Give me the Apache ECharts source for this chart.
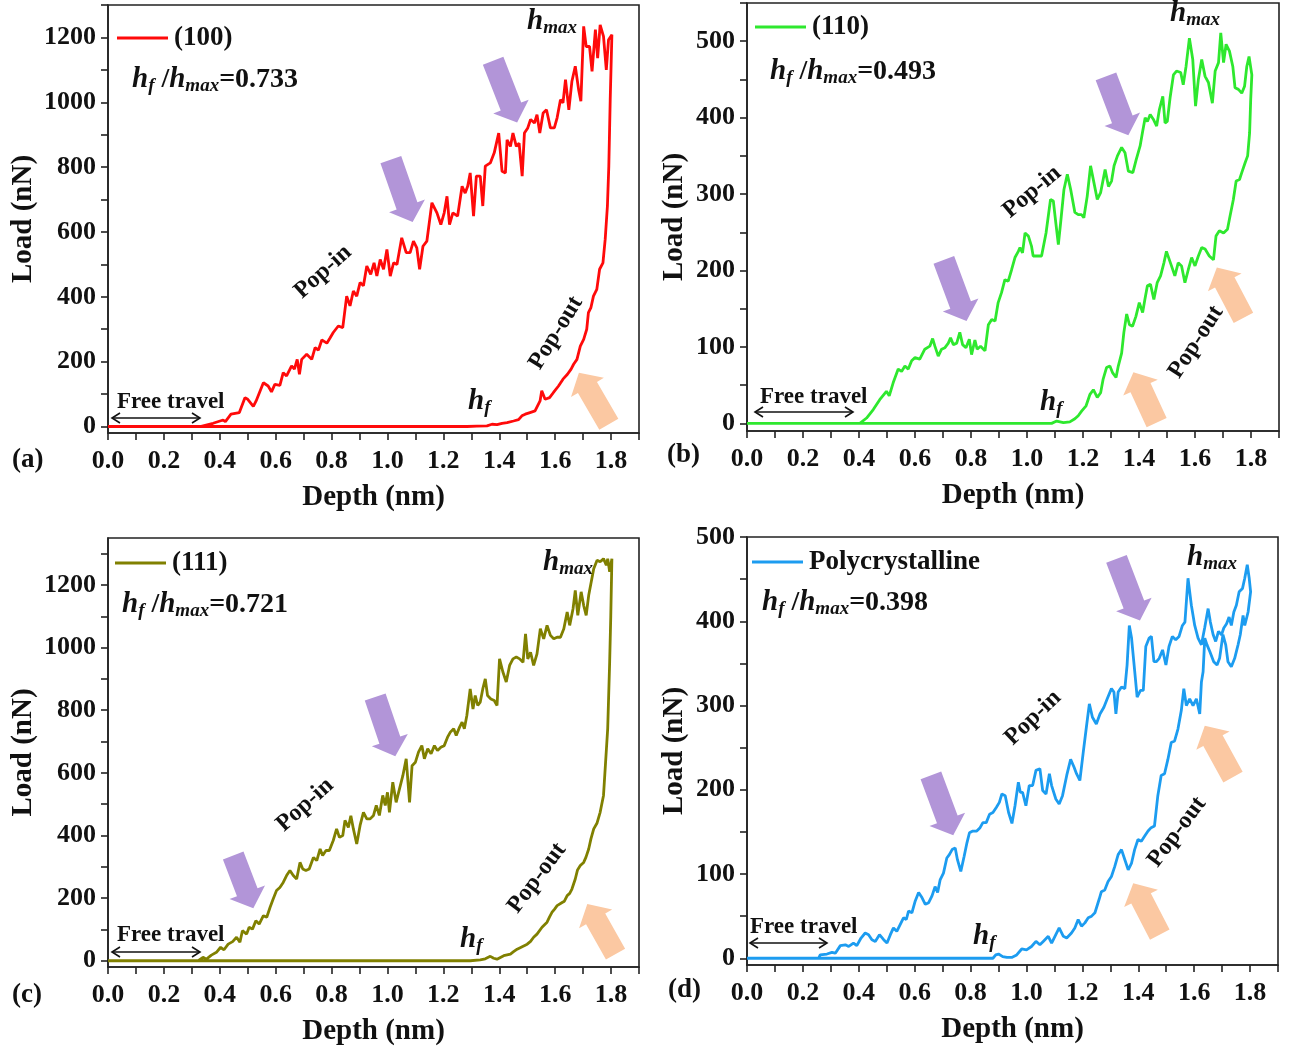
<!DOCTYPE html>
<html>
<head>
<meta charset="utf-8">
<script src="https://cdn.jsdelivr.net/npm/echarts@6/dist/echarts.min.js"></script>
<style>
html, body { margin: 0; padding: 0; background: #fff; }
#chart { width: 1295px; height: 1047px; }
</style>
</head>
<body>
<div id="chart"></div>
<script>
// ---- data: depth (nm), load (nN) ----
const load100 = [[0,0],[0.33,0],[0.376,10],[0.412,20],[0.42,15],[0.44,38],[0.47,43],[0.49,89],[0.50,84],[0.52,62],[0.53,79],[0.556,135],[0.573,125],[0.585,107],[0.597,130],[0.615,127],[0.627,166],[0.639,156],[0.657,187],[0.667,177],[0.677,207],[0.685,161],[0.693,207],[0.711,223],[0.729,207],[0.741,243],[0.753,236],[0.765,267],[0.783,257],[0.795,274],[0.806,290],[0.824,310],[0.840,305],[0.854,402],[0.866,372],[0.878,418],[0.890,402],[0.902,444],[0.914,434],[0.926,495],[0.94,469],[0.952,505],[0.962,464],[0.974,515],[0.986,485],[0.998,546],[1.01,464],[1.022,505],[1.034,500],[1.051,582],[1.067,536],[1.081,536],[1.093,572],[1.105,551],[1.115,485],[1.127,556],[1.141,572],[1.159,690],[1.177,659],[1.191,623],[1.203,659],[1.213,710],[1.222,623],[1.234,659],[1.251,649],[1.267,741],[1.278,720],[1.287,741],[1.296,782],[1.308,649],[1.318,772],[1.332,772],[1.341,680],[1.35,803],[1.368,813],[1.382,844],[1.398,905],[1.41,787],[1.422,782],[1.428,884],[1.44,864],[1.449,905],[1.461,864],[1.471,874],[1.482,772],[1.49,905],[1.502,921],[1.512,947],[1.526,936],[1.535,962],[1.545,905],[1.557,967],[1.569,977],[1.583,921],[1.597,921],[1.607,952],[1.619,1008],[1.628,998],[1.637,1070],[1.649,977],[1.66,1065],[1.672,1111],[1.684,1039],[1.692,1003],[1.702,1234],[1.711,1172],[1.723,1172],[1.732,1095],[1.744,1224],[1.752,1136],[1.761,1239],[1.773,1203],[1.783,1100],[1.791,1193],[1.803,1208]];
const unload100 = [[1.797,1008],[1.792,803],[1.787,680],[1.779,577],[1.771,505],[1.759,485],[1.749,423],[1.737,402],[1.728,367],[1.719,351],[1.713,300],[1.702,269],[1.690,248],[1.678,207],[1.666,192],[1.657,177],[1.644,161],[1.628,146],[1.612,125],[1.594,105],[1.580,89],[1.564,84],[1.552,110],[1.546,79],[1.528,48],[1.510,43],[1.493,38],[1.481,33],[1.469,21],[1.451,17],[1.428,12],[1.410,10],[1.392,6],[1.374,7],[1.356,2],[1.320,1],[1.285,0],[0,0]];

const load110 = [[0,0],[0.403,0],[0.427,7],[0.451,18],[0.474,31],[0.498,42],[0.508,36],[0.522,53],[0.54,71],[0.552,68],[0.564,75],[0.576,71],[0.588,82],[0.6,86],[0.617,84],[0.635,97],[0.653,101],[0.663,111],[0.671,101],[0.683,88],[0.695,97],[0.707,99],[0.719,105],[0.727,112],[0.737,103],[0.749,105],[0.76,119],[0.77,103],[0.782,99],[0.794,110],[0.802,90],[0.814,109],[0.822,97],[0.834,101],[0.85,95],[0.862,129],[0.874,136],[0.886,134],[0.897,158],[0.909,171],[0.921,188],[0.933,186],[0.945,201],[0.957,217],[0.969,225],[0.975,230],[0.984,223],[0.993,249],[1.005,245],[1.016,232],[1.022,219],[1.04,219],[1.052,219],[1.068,249],[1.084,293],[1.094,291],[1.103,262],[1.112,234],[1.12,262],[1.132,306],[1.144,326],[1.156,306],[1.171,276],[1.183,273],[1.195,273],[1.203,269],[1.215,297],[1.227,337],[1.239,315],[1.251,293],[1.263,302],[1.279,332],[1.291,310],[1.302,317],[1.311,337],[1.323,350],[1.338,361],[1.35,354],[1.362,330],[1.378,328],[1.39,345],[1.404,363],[1.413,382],[1.422,400],[1.43,395],[1.44,404],[1.451,398],[1.463,389],[1.473,411],[1.485,428],[1.493,393],[1.501,395],[1.511,426],[1.523,456],[1.534,461],[1.549,459],[1.558,443],[1.568,467],[1.58,504],[1.592,476],[1.602,415],[1.612,450],[1.624,476],[1.636,454],[1.648,446],[1.662,419],[1.672,461],[1.684,472],[1.692,511],[1.702,472],[1.711,496],[1.723,487],[1.735,467],[1.743,439],[1.755,437],[1.767,432],[1.777,441],[1.785,467],[1.793,480],[1.803,456]];
const unload110 = [[1.799,424],[1.795,380],[1.788,350],[1.779,341],[1.767,328],[1.759,319],[1.747,317],[1.737,293],[1.725,271],[1.716,254],[1.702,249],[1.687,252],[1.675,245],[1.666,214],[1.651,219],[1.636,228],[1.624,230],[1.612,219],[1.6,206],[1.588,217],[1.576,201],[1.564,184],[1.552,206],[1.54,210],[1.528,193],[1.516,206],[1.498,225],[1.489,210],[1.477,193],[1.465,184],[1.453,162],[1.441,182],[1.43,180],[1.421,162],[1.413,145],[1.401,158],[1.389,140],[1.377,127],[1.366,129],[1.356,143],[1.346,119],[1.338,92],[1.326,75],[1.318,60],[1.306,66],[1.296,75],[1.284,73],[1.272,58],[1.263,40],[1.251,34],[1.237,44],[1.225,38],[1.211,23],[1.195,16],[1.183,10],[1.171,6],[1.153,2],[1.13,1],[1.106,3],[1.088,0],[0,0]];

const load111 = [[0,0],[0.323,0],[0.34,11],[0.352,5],[0.37,18],[0.388,27],[0.403,43],[0.415,35],[0.43,53],[0.446,61],[0.46,75],[0.472,59],[0.481,96],[0.496,85],[0.505,107],[0.517,101],[0.529,128],[0.541,117],[0.556,144],[0.568,139],[0.58,171],[0.591,197],[0.603,224],[0.615,234],[0.627,250],[0.639,272],[0.651,288],[0.663,272],[0.675,261],[0.687,314],[0.697,293],[0.708,288],[0.72,293],[0.735,330],[0.747,320],[0.759,357],[0.768,336],[0.78,352],[0.792,352],[0.806,384],[0.818,421],[0.828,394],[0.84,400],[0.848,448],[0.86,426],[0.869,463],[0.878,421],[0.89,373],[0.902,432],[0.914,474],[0.926,453],[0.938,453],[0.95,464],[0.96,496],[0.971,464],[0.983,528],[0.992,496],[1.0,538],[1.007,474],[1.019,570],[1.031,506],[1.043,549],[1.055,591],[1.067,645],[1.079,506],[1.088,623],[1.1,634],[1.111,666],[1.123,687],[1.132,645],[1.144,677],[1.156,661],[1.168,687],[1.179,671],[1.191,682],[1.203,687],[1.215,714],[1.225,730],[1.237,741],[1.246,719],[1.258,746],[1.267,762],[1.275,741],[1.284,783],[1.296,868],[1.306,804],[1.314,847],[1.323,815],[1.332,826],[1.341,868],[1.35,900],[1.358,847],[1.37,836],[1.382,831],[1.392,815],[1.401,964],[1.413,922],[1.425,890],[1.437,943],[1.449,964],[1.461,970],[1.473,964],[1.485,953],[1.494,1044],[1.502,964],[1.512,985],[1.523,943],[1.535,980],[1.547,1060],[1.559,1028],[1.571,1071],[1.583,1039],[1.595,1028],[1.607,1033],[1.619,1033],[1.631,1060],[1.643,1114],[1.652,1071],[1.664,1124],[1.672,1183],[1.681,1103],[1.693,1178],[1.702,1135],[1.711,1103],[1.72,1167],[1.728,1205],[1.738,1252],[1.75,1279],[1.761,1274],[1.773,1284],[1.783,1263],[1.788,1284],[1.795,1242],[1.803,1284]];
const unload111 = [[1.799,1100],[1.795,953],[1.788,741],[1.773,528],[1.761,474],[1.75,440],[1.738,421],[1.728,389],[1.72,357],[1.71,330],[1.702,314],[1.69,304],[1.68,290],[1.672,261],[1.66,229],[1.652,215],[1.643,208],[1.633,190],[1.625,186],[1.607,176],[1.598,165],[1.589,155],[1.58,140],[1.571,123],[1.562,115],[1.553,107],[1.535,85],[1.523,75],[1.512,62],[1.5,53],[1.482,45],[1.464,37],[1.45,28],[1.44,21],[1.416,16],[1.392,5],[1.38,8],[1.368,14],[1.35,6],[1.332,3],[1.296,0],[0,0]];

const loadPoly = [[0,0],[0.256,0],[0.262,4],[0.286,5],[0.304,7],[0.316,6],[0.334,15],[0.352,16],[0.364,14],[0.381,18],[0.393,15],[0.408,24],[0.423,30],[0.435,28],[0.447,22],[0.459,20],[0.474,28],[0.489,22],[0.501,18],[0.513,28],[0.524,36],[0.536,32],[0.548,40],[0.56,48],[0.57,46],[0.578,56],[0.59,54],[0.602,68],[0.614,78],[0.626,72],[0.638,64],[0.65,66],[0.662,74],[0.673,85],[0.682,78],[0.691,93],[0.703,101],[0.715,119],[0.724,123],[0.734,129],[0.745,131],[0.753,117],[0.765,103],[0.777,121],[0.787,137],[0.796,149],[0.808,151],[0.822,151],[0.834,155],[0.844,161],[0.856,161],[0.868,171],[0.88,173],[0.892,179],[0.903,185],[0.912,195],[0.924,193],[0.936,173],[0.948,160],[0.959,181],[0.971,209],[0.978,197],[0.986,197],[0.998,181],[1.01,205],[1.022,205],[1.034,223],[1.048,225],[1.058,199],[1.07,195],[1.082,219],[1.09,205],[1.105,189],[1.117,183],[1.129,193],[1.144,217],[1.158,236],[1.17,227],[1.179,219],[1.191,211],[1.203,244],[1.215,276],[1.225,302],[1.236,286],[1.25,278],[1.263,290],[1.277,298],[1.289,308],[1.304,320],[1.313,316],[1.32,290],[1.328,316],[1.34,322],[1.352,320],[1.36,348],[1.368,395],[1.376,380],[1.384,352],[1.396,310],[1.408,318],[1.418,318],[1.427,370],[1.439,380],[1.447,382],[1.456,352],[1.465,352],[1.475,356],[1.487,366],[1.499,348],[1.51,370],[1.522,382],[1.534,378],[1.546,382],[1.558,395],[1.567,399],[1.578,451],[1.59,419],[1.602,395],[1.614,380],[1.626,372],[1.638,393],[1.65,415],[1.658,399],[1.668,384],[1.677,376],[1.687,388],[1.698,384],[1.706,392],[1.716,397],[1.725,405],[1.733,395],[1.742,411],[1.751,419],[1.761,435],[1.773,439],[1.781,451],[1.79,467],[1.797,451],[1.802,435]];
const unloadPoly = [[1.793,411],[1.781,395],[1.775,407],[1.765,384],[1.757,372],[1.745,356],[1.733,346],[1.721,352],[1.713,372],[1.703,384],[1.691,356],[1.682,348],[1.67,352],[1.656,364],[1.646,372],[1.638,380],[1.632,340],[1.626,328],[1.62,290],[1.608,308],[1.596,300],[1.584,308],[1.572,300],[1.563,320],[1.554,294],[1.542,272],[1.53,258],[1.518,256],[1.506,236],[1.494,219],[1.482,217],[1.47,193],[1.458,157],[1.446,155],[1.435,151],[1.423,145],[1.411,139],[1.399,141],[1.387,129],[1.376,113],[1.364,105],[1.352,117],[1.34,129],[1.328,123],[1.316,109],[1.304,97],[1.292,91],[1.28,81],[1.268,79],[1.26,70],[1.245,54],[1.233,50],[1.221,48],[1.209,42],[1.197,38],[1.185,46],[1.173,36],[1.161,30],[1.144,24],[1.132,26],[1.117,36],[1.105,28],[1.09,18],[1.078,26],[1.06,20],[1.048,16],[1.034,20],[1.018,14],[1.0,10],[0.983,11],[0.965,4],[0.947,1],[0.93,1],[0.915,2],[0.90,5],[0.89,4],[0.88,0],[0,0]];

// ---- tick labels ----
const xLabels = [0, 0.2, 0.4, 0.6, 0.8, 1.0, 1.2, 1.4, 1.6, 1.8];
const xTicks = [0, 0.1, 0.2, 0.3, 0.4, 0.5, 0.6, 0.7, 0.8, 0.9, 1.0, 1.1, 1.2, 1.3, 1.4, 1.5, 1.6, 1.7, 1.8, 1.9];
const yLabelsBig = [0, 200, 400, 600, 800, 1000, 1200];
const yTicksBig = [0, 100, 200, 300, 400, 500, 600, 700, 800, 900, 1000, 1100, 1200, 1300];
const yLabelsSmall = [0, 100, 200, 300, 400, 500];
const yTicksSmall = [0, 50, 100, 150, 200, 250, 300, 350, 400, 450, 500, 550];

const names = ['(100)', '(110)', '(111)', 'Polycrystalline'];
const ratios = ['0.733', '0.493', '0.721', '0.398'];
const panelTags = ['(a)', '(b)', '(c)', '(d)'];

// arrows: [panel, tail [x,y], tip [x,y]] in data units
const popInArrows = [
  [0, [1.012, 823], [1.090, 631]],
  [0, [1.378, 1128], [1.464, 938]],
  [1, [0.703, 214], [0.784, 134]],
  [1, [1.282, 454], [1.362, 377]],
  [2, [0.448, 336], [0.520, 168]],
  [2, [0.956, 842], [1.028, 653]],
  [3, [0.658, 217], [0.738, 146]],
  [3, [1.322, 474], [1.406, 401]]
];
const popOutArrows = [
  [0, [1.792, 7], [1.685, 166]],
  [1, [1.463, 1], [1.380, 67]],
  [1, [1.773, 138], [1.678, 204]],
  [2, [1.816, 21], [1.715, 181]],
  [3, [1.477, 28], [1.382, 89]],
  [3, [1.739, 215], [1.638, 276]]
];

const FONT = '"Liberation Serif", "Times New Roman", serif';
const colors = ['#ff0a0a', '#2ee82e', '#808000', '#1c9cf0'];
const grids = [
  { left: 108, top: 5, width: 531, height: 428 },
  { left: 747, top: 3, width: 532, height: 428 },
  { left: 108, top: 538, width: 531, height: 429 },
  { left: 747, top: 537, width: 531, height: 428 }
];
const yRange = [[-20, 1300], [-10, 550], [-20, 1350], [-8, 500]];
const yNameGap = [70, 58, 70, 58];

const chart = echarts.init(document.getElementById('chart'));

const labelStyle = { fontFamily: FONT, fontWeight: 'bold', fontSize: 26, color: '#111' };
const axisLineStyle = { color: '#222', width: 1.6 };

const option = {
  animation: false,
  backgroundColor: '#fff',
  grid: grids.map(g => Object.assign({ show: true, borderColor: '#222', borderWidth: 1.6, backgroundColor: 'transparent' }, g)),
  xAxis: grids.map((g, i) => ({
    gridIndex: i, type: 'value', min: 0, max: 1.9,
    name: 'Depth (nm)', nameLocation: 'middle', nameGap: 50,
    nameTextStyle: { fontFamily: FONT, fontWeight: 'bold', fontSize: 29, color: '#111' },
    axisLine: { show: true, onZero: false, lineStyle: axisLineStyle },
    axisTick: { show: true, inside: false, length: 7, customValues: xTicks, lineStyle: axisLineStyle },
    axisLabel: Object.assign({ customValues: xLabels, margin: 15, formatter: v => v.toFixed(1) }, labelStyle),
    splitLine: { show: false }
  })),
  yAxis: grids.map((g, i) => {
    const big = (i === 0 || i === 2);
    return {
      gridIndex: i, type: 'value', min: yRange[i][0], max: yRange[i][1],
      name: 'Load (nN)', nameLocation: 'middle', nameGap: yNameGap[i],
      nameTextStyle: { fontFamily: FONT, fontWeight: 'bold', fontSize: 29, color: '#111' },
      axisLine: { show: true, onZero: false, lineStyle: axisLineStyle },
      axisTick: { show: true, inside: false, length: 7, customValues: big ? yTicksBig : yTicksSmall, lineStyle: axisLineStyle },
      axisLabel: Object.assign({ customValues: big ? yLabelsBig : yLabelsSmall, margin: 12, formatter: v => String(v) }, labelStyle),
      splitLine: { show: false }
    };
  }),
  series: [
    [load100, unload100], [load110, unload110], [load111, unload111], [loadPoly, unloadPoly]
  ].map((d, i) => ({
    type: 'line', name: names[i], xAxisIndex: i, yAxisIndex: i,
    data: d[0].concat(d[1]), showSymbol: false, symbol: 'none',
    lineStyle: { color: colors[i], width: 2.8 }, itemStyle: { color: colors[i] },
    z: 3
  }))
};
chart.setOption(option);

// ---- annotations ----
const richH = {
  i: { fontFamily: FONT, fontStyle: 'italic', fontWeight: 'bold', fontSize: 29, color: '#111' },
  s: { fontFamily: FONT, fontStyle: 'italic', fontWeight: 'bold', fontSize: 19, color: '#111', padding: [13, 0, 0, 0] },
  n: { fontFamily: FONT, fontWeight: 'bold', fontSize: 28, color: '#111' }
};
function text(x, y, str, size, extra) {
  return Object.assign({
    type: 'text', x: x, y: y, z: 20,
    style: { text: str, fontFamily: FONT, fontWeight: 'bold', fontSize: size, fill: '#111', align: 'left', verticalAlign: 'middle' }
  }, extra || {});
}
function richText(x, y, str) {
  return { type: 'text', x: x, y: y, z: 20,
    style: { text: str, rich: richH, fontFamily: FONT, fontWeight: 'bold', fontSize: 28, fill: '#111', align: 'left', verticalAlign: 'middle' } };
}
function rotText(cx, cy, str, deg) {
  return { type: 'text', x: cx, y: cy, rotation: deg * Math.PI / 180, z: 20,
    style: { text: str, fontFamily: FONT, fontWeight: 'bold', fontSize: 24, fill: '#111', align: 'center', verticalAlign: 'middle' } };
}
function blockArrow(tail, tip, color) {
  const dx = tip[0] - tail[0], dy = tip[1] - tail[1];
  const len = Math.hypot(dx, dy), ux = dx / len, uy = dy / len, nx = -uy, ny = ux;
  const w1 = 11, w2 = 19, hl = 17;
  const bx = tip[0] - ux * hl, by = tip[1] - uy * hl;
  return { type: 'polygon', z: 15, shape: { points: [
    [tail[0] + nx * w1, tail[1] + ny * w1], [bx + nx * w1, by + ny * w1], [bx + nx * w2, by + ny * w2],
    tip, [bx - nx * w2, by - ny * w2], [bx - nx * w1, by - ny * w1], [tail[0] - nx * w1, tail[1] - ny * w1]
  ] }, style: { fill: color } };
}
function doubleArrow(x1, x2, y) {
  const s = { stroke: '#111', lineWidth: 1.6, fill: null };
  return [
    { type: 'line', z: 20, shape: { x1: x1, y1: y, x2: x2, y2: y }, style: s },
    { type: 'polyline', z: 20, shape: { points: [[x1 + 8, y - 5], [x1, y], [x1 + 8, y + 5]] }, style: s },
    { type: 'polyline', z: 20, shape: { points: [[x2 - 8, y - 5], [x2, y], [x2 - 8, y + 5]] }, style: s }
  ];
}

// label layout per panel (pixels)
const layout = [
  { leg: [117, 168, 38], ratio: [132, 80], hmax: [527, 22], popIn: [323, 272, 42], popOut: [556, 333, 58], hf: [468, 402], free: [117, 402, 112, 200, 418], tag: [12, 460] },
  { leg: [755, 806, 27], ratio: [770, 72], hmax: [1170, 14], popIn: [1032, 192, 40], popOut: [1196, 342, 57], hf: [1040, 403], free: [760, 397, 755, 853, 412], tag: [667, 455] },
  { leg: [115, 166, 563], ratio: [122, 605], hmax: [543, 563], popIn: [305, 805, 42], popOut: [537, 878, 53], hf: [460, 940], free: [117, 935, 112, 200, 952], tag: [12, 995] },
  { leg: [752, 803, 562], ratio: [762, 603], hmax: [1187, 558], popIn: [1033, 718, 44], popOut: [1177, 832, 53], hf: [973, 937], free: [750, 927, 750, 827, 943], tag: [668, 990] }
];

const graphics = [];
layout.forEach((L, i) => {
  graphics.push({ type: 'line', z: 20, shape: { x1: L.leg[0], y1: L.leg[2], x2: L.leg[1], y2: L.leg[2] }, style: { stroke: colors[i], lineWidth: 3 } });
  graphics.push(text(L.leg[1] + 6, L.leg[2], names[i], 27));
  graphics.push(richText(L.ratio[0], L.ratio[1], '{i|h}{s|f}{n| /}{i|h}{s|max}{n|=' + ratios[i] + '}'));
  graphics.push(richText(L.hmax[0], L.hmax[1], '{i|h}{s|max}'));
  graphics.push(richText(L.hf[0], L.hf[1], '{i|h}{s|f}'));
  graphics.push(rotText(L.popIn[0], L.popIn[1], 'Pop-in', L.popIn[2]));
  graphics.push(rotText(L.popOut[0], L.popOut[1], 'Pop-out', L.popOut[2]));
  graphics.push(text(L.free[0], L.free[1], 'Free travel', 23));
  doubleArrow(L.free[2], L.free[3], L.free[4]).forEach(g => graphics.push(g));
  graphics.push(text(L.tag[0], L.tag[1], panelTags[i], 27));
});
popInArrows.forEach(a => {
  const tail = chart.convertToPixel({ gridIndex: a[0] }, a[1]);
  const tip = chart.convertToPixel({ gridIndex: a[0] }, a[2]);
  graphics.push(blockArrow(tail, tip, '#b295d8'));
});
popOutArrows.forEach(a => {
  const tail = chart.convertToPixel({ gridIndex: a[0] }, a[1]);
  const tip = chart.convertToPixel({ gridIndex: a[0] }, a[2]);
  graphics.push(blockArrow(tail, tip, '#fbc8a2'));
});
chart.setOption({ graphic: graphics });
</script>
</body>
</html>
